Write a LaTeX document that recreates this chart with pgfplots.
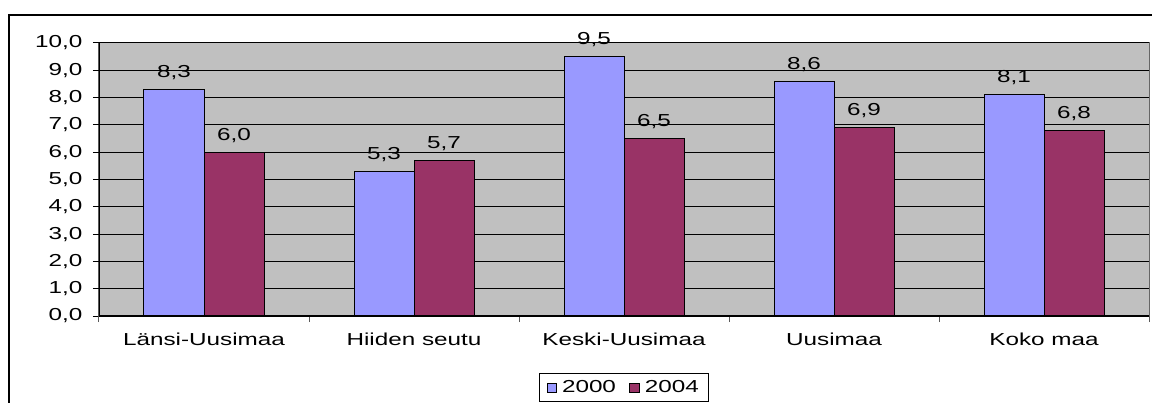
\documentclass[border=0pt]{standalone}
\usepackage{pgfplots}
\pgfplotsset{compat=1.18}
\usepackage{fontspec}
\setmainfont{Liberation Sans}[FakeStretch=1.4]
\definecolor{barblue}{HTML}{9999FF}
\definecolor{barred}{HTML}{993366}
\definecolor{plotgray}{HTML}{C0C0C0}
\begin{document}
\fontsize{13pt}{15pt}\selectfont
\begin{tikzpicture}
% 1px = 0.75pt, origin at lower left of plot area
\useasboundingbox (-74.25pt,-65.25pt) rectangle (789.75pt,237pt);
\draw[line width=1.2pt] (-67.5pt,-65.25pt) -- (-67.5pt,225.75pt) -- (789.75pt,225.75pt);
\begin{axis}[at={(0,0)}, anchor=south west, scale only axis,
  width=787.5pt, height=204.75pt,
  ybar=0pt, bar width=45pt,
  xmin=-0.5, xmax=4.5, ymin=0, ymax=10,
  xtick={0,...,4},
  xticklabels={Länsi-Uusimaa,Hiiden seutu,Keski-Uusimaa,Uusimaa,Koko maa},
  xtick style={draw=none},
  xticklabel style={yshift=-4pt},
  extra x ticks={-0.5,0.5,1.5,2.5,3.5,4.5},
  extra x tick labels={},
  extra x tick style={grid=none, xtick style={draw=gray!70!black, line width=0.75pt}},
  tick pos=left,
  ytick={0,1,...,10},
  ymajorgrids, grid style={black, line width=0.75pt},
  tick align=outside, major tick length=4.5pt,
  ytick style={black, line width=0.75pt},
  yticklabel style={xshift=-3.5pt},
  axis line style={draw=none},
  axis background/.style={fill=plotgray, draw=gray!80!black, line width=0.75pt},
  nodes near coords,
  every node near coord/.append style={anchor=base, yshift=9pt, text=black},
  legend style={at={(0.5,-0.209)}, anchor=north, legend columns=2,
    draw=black, line width=0.75pt, inner xsep=5pt, inner ysep=3pt,
    /tikz/every odd column/.append style={column sep=2pt},
    /tikz/every even column/.append style={column sep=8pt}},
  legend image code/.code={\draw[#1, draw=black, line width=0.6pt] (0pt,-3.4pt) rectangle (7pt,3.4pt);},
  /pgf/number format/fixed, /pgf/number format/fixed zerofill,
  /pgf/number format/precision=1, /pgf/number format/use comma,
  /pgf/number format/assume math mode=true,
]
\addplot[fill=barblue, draw=black, line width=0.75pt] coordinates {(0,8.3) (1,5.3) (2,9.5) (3,8.6) (4,8.1)};
\addplot[fill=barred, draw=black, line width=0.75pt] coordinates {(0,6.0) (1,5.7) (2,6.5) (3,6.9) (4,6.8)};
\legend{2000,2004}
\draw[black, line width=0.9pt] (rel axis cs:0,1) -- (rel axis cs:0,0) -- (rel axis cs:1,0);
\end{axis}
\end{tikzpicture}
\end{document}
